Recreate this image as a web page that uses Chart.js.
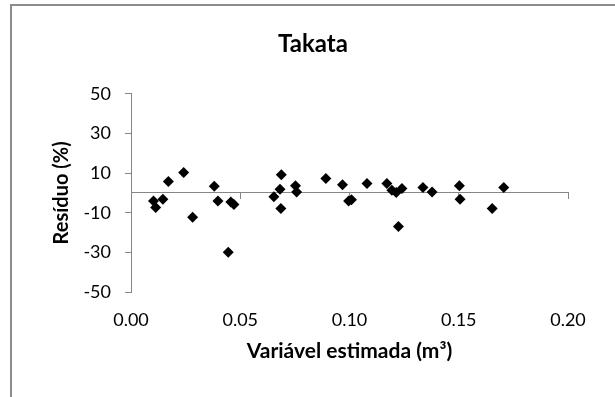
<!DOCTYPE html>
<html>
<head>
<meta charset="utf-8">
<script src="https://cdn.jsdelivr.net/npm/chart.js@4/dist/chart.umd.min.js"></script>
<style>
    html, body { margin: 0; padding: 0; background: #ffffff; }
    #frame {
        position: absolute; left: 10px; top: 4px; width: 640px; height: 420px;
        border-left: 2px solid #8c8c8c; border-top: 2px solid #8c8c8c;
    }
    #wrap { position: absolute; left: 0; top: 0; width: 615px; height: 397px; }
</style>
</head>
<body>
<div id="frame"></div>
<div id="wrap"><canvas id="residuoChart" width="615" height="397"></canvas></div>
<script>
// volume estimado (m3) e resíduo (%) de cada árvore
const estimatedVolume = [
    0.0103, 0.0113, 0.0146, 0.0171, 0.0241, 0.0282, 0.0381, 0.0398, 0.0445, 0.0457,
    0.0471, 0.0654, 0.0682, 0.0688, 0.0686, 0.0753, 0.0758, 0.0892, 0.0968, 0.0996,
    0.1009, 0.1080, 0.1171, 0.1194, 0.1214, 0.1240, 0.1224, 0.1336, 0.1378, 0.1503,
    0.1506, 0.1653, 0.1706
];
const residualPct = [
    -4.1, -7.4, -3.2, 5.8, 10.3, -12.3, 3.4, -4.1, -29.9, -4.6,
    -5.9, -2.0, 1.9, 9.1, -7.9, 3.6, 0.4, 7.3, 4.1, -4.1,
    -3.4, 4.8, 4.8, 1.4, 0.2, 2.2, -16.9, 2.7, 0.5, 3.6,
    -3.2, -7.9, 2.7
];
const xTicks = [0, 0.05, 0.10, 0.15, 0.20];
const yTicks = [-50, -30, -10, 10, 30, 50];

const axisGray = '#868686';
const fontFamily = 'Lato, "Open Sans", sans-serif';

const points = estimatedVolume.map((x, i) => ({ x, y: residualPct[i] }));

new Chart(document.getElementById('residuoChart'), {
    type: 'scatter',
    data: {
        datasets: [{
            data: points,
            pointStyle: 'rectRot',
            pointRadius: 5.5,
            pointHoverRadius: 5.5,
            backgroundColor: '#000000',
            borderColor: '#000000',
            borderWidth: 0
        }]
    },
    options: {
        responsive: false,
        animation: false,
        layout: { padding: { top: 0, right: 0, bottom: 0, left: 11 } },
        plugins: {
            legend: { display: false },
            tooltip: { enabled: false },
            title: {
                display: true,
                text: 'Takata',
                color: '#000000',
                font: { family: fontFamily, size: 24, weight: 'bold', lineHeight: 1.2 },
                padding: { top: 30, bottom: 35 }
            }
        },
        scales: {
            x: {
                type: 'linear',
                position: 'bottom',
                min: xTicks[0],
                max: xTicks[xTicks.length - 1],
                border: { display: false },
                grid: { display: false, drawTicks: false },
                ticks: {
                    stepSize: 0.05,
                    padding: 17,
                    color: '#000000',
                    font: { family: fontFamily, size: 18 },
                    callback: (v) => Number(v).toFixed(2)
                },
                title: {
                    display: true,
                    text: 'Variável estimada (m³)',
                    color: '#000000',
                    font: { family: fontFamily, size: 21, weight: 'bold', lineHeight: 1.2 },
                    padding: { top: 0, bottom: 33 }
                },
                afterFit: (scale) => { scale.height = 105; }
            },
            xZero: {
                type: 'linear',
                position: { y: 0 },
                min: xTicks[0],
                max: xTicks[xTicks.length - 1],
                border: { display: true, color: axisGray, width: 1 },
                grid: { drawOnChartArea: false, drawTicks: true, tickLength: 6, color: axisGray },
                ticks: { display: false, stepSize: 0.05 }
            },
            y: {
                type: 'linear',
                position: 'left',
                min: yTicks[0],
                max: yTicks[yTicks.length - 1],
                border: { display: true, color: axisGray, width: 1 },
                grid: { drawOnChartArea: false, drawTicks: true, tickLength: 6, color: axisGray },
                ticks: {
                    stepSize: 20,
                    padding: 14,
                    color: '#000000',
                    font: { family: fontFamily, size: 18 }
                },
                title: {
                    display: true,
                    text: 'Resíduo (%)',
                    color: '#000000',
                    font: { family: fontFamily, size: 20, weight: 'bold', lineHeight: 1.2 },
                    padding: { top: 39, bottom: 0 }
                },
                afterFit: (scale) => { scale.width = 120; }
            },
            // empty right margin so the plot ends at 0.20 like the original
            yPad: {
                type: 'linear',
                position: 'right',
                border: { display: false },
                grid: { display: false, drawTicks: false },
                ticks: { display: false },
                afterFit: (scale) => { scale.width = 47; }
            }
        }
    }
});
</script>
</body>
</html>
